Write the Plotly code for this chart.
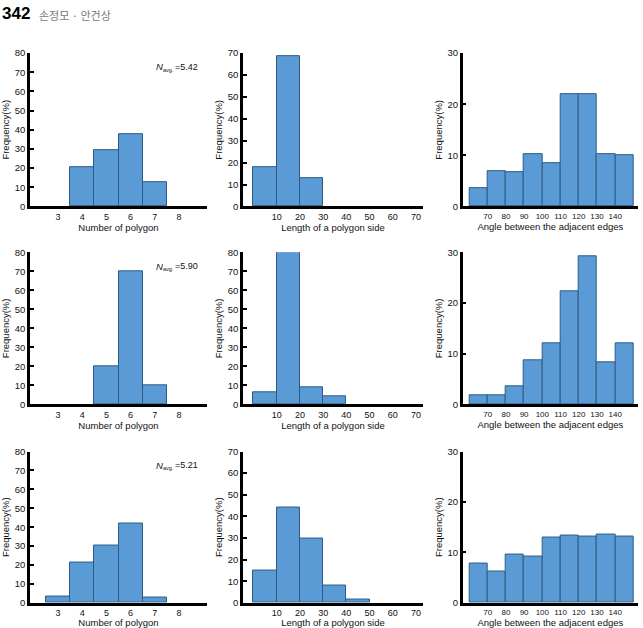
import plotly.graph_objects as go

# ---------------- data ----------------
polygon_n = [3, 4, 5, 6, 7]
freq_n_row1 = [None, 20.5, 29.5, 37.5, 12.5]
freq_n_row2 = [None, None, 20, 70, 10]
freq_n_row3 = [3.5, 21.5, 30.5, 42, 3]
navg_labels = ["5.42", "5.90", "5.21"]

side_bins = [5, 15, 25, 35, 45]
freq_side_row1 = [18, 68.5, 13, None, None]
freq_side_row2 = [6.4, 80, 8.9, 4.2, None]
freq_side_row3 = [14.9, 44.1, 29.8, 8.1, 1.4]

angle_bins = [65, 75, 85, 95, 105, 115, 125, 135, 145]
freq_ang_row1 = [3.5, 6.9, 6.7, 10.3, 8.5, 22, 22, 10.2, 10]
freq_ang_row2 = [1.7, 1.7, 3.5, 8.7, 12, 22.3, 29.2, 8.4, 12]
freq_ang_row3 = [7.8, 6.3, 9.5, 9.2, 13, 13.3, 13.2, 13.6, 13.2]

n_ticks = [3, 4, 5, 6, 7, 8]
side_ticks = [10, 20, 30, 40, 50, 60, 70]
angle_ticks = [70, 80, 90, 100, 110, 120, 130, 140]

# ---------------- layout helpers ----------------
W, H = 643, 628
FONT = "Liberation Sans, Arial, sans-serif"
BAR = "#5b9bd5"
EDGE = "#2c5a85"
TXT = "#111"

col_x = [(30, 207), (243, 423), (462.7, 638)]
row_y = [(48, 204), (250.7, 405.5), (453.5, 607.5)]

cols = [
    dict(x=polygon_n, width=1, range=[1.85, 9.15], ticks=n_ticks,
         title="Number of polygon", tfs=9,
         data=[freq_n_row1, freq_n_row2, freq_n_row3],
         yr=[80, 80, 80], ydt=[10, 10, 10]),
    dict(x=side_bins, width=10, range=[-4.5, 73], ticks=side_ticks,
         title="Length of a polygon side", tfs=9,
         data=[freq_side_row1, freq_side_row2, freq_side_row3],
         yr=[70, 80, 70], ydt=[10, 10, 10]),
    dict(x=angle_bins, width=10, range=[56.3, 152.5], ticks=angle_ticks,
         title="Angle between the adjacent edges", tfs=8,
         data=[freq_ang_row1, freq_ang_row2, freq_ang_row3],
         yr=[30, 30, 30], ydt=[10, 10, 10]),
]

fig = go.Figure()
layout = dict(width=W, height=H, margin=dict(l=0, r=0, t=0, b=0),
              paper_bgcolor="white", plot_bgcolor="white",
              showlegend=False, bargap=0, font=dict(family=FONT, color=TXT))
annotations = []

k = 0
for r in range(3):
    for c in range(3):
        k += 1
        spec = cols[c]
        xs = "" if k == 1 else str(k)
        pairs = [(xv, yv) for xv, yv in zip(spec["x"], spec["data"][r]) if yv is not None]
        fig.add_trace(go.Bar(
            x=[p[0] for p in pairs], y=[p[1] for p in pairs], width=spec["width"],
            marker=dict(color=BAR, line=dict(color=EDGE, width=1)),
            xaxis="x" + xs, yaxis="y" + xs, hoverinfo="x+y"))
        x0, x1 = col_x[c]
        yt, yb = row_y[r]
        layout["xaxis" + xs] = dict(
            domain=[x0 / W, x1 / W], anchor="y" + xs,
            range=spec["range"], tickvals=spec["ticks"],
            showgrid=False, zeroline=False, showline=True,
            linecolor="black", linewidth=2.5, ticks="",
            tickfont=dict(size=spec["tfs"], family=FONT, color=TXT),
            title=dict(text=spec["title"], standoff=2,
                       font=dict(size=9.5, family=FONT, color=TXT)),
        )
        layout["yaxis" + xs] = dict(
            domain=[1 - yb / H, 1 - yt / H], anchor="x" + xs,
            range=[0, spec["yr"][r]], dtick=spec["ydt"][r],
            showgrid=False, zeroline=False, showline=True,
            linecolor="black", linewidth=2.5, ticks="inside", ticklen=4,
            tickwidth=1.5, tickcolor="black",
            tickfont=dict(size=9.5, family=FONT, color=TXT),
            title=dict(text="Frequency(%)", standoff=4,
                       font=dict(size=9.5, family=FONT, color=TXT)),
        )

# N_avg annotations in first column (N italic, "avg." subscript, "=value")
for r in range(3):
    yt, yb = row_y[r]
    ym = 1 - (yt + 14) / H
    annotations.append(dict(
        xref="paper", yref="paper", x=155 / W, y=ym,
        xanchor="left", yanchor="middle", showarrow=False, text="N",
        borderpad=0,
        font=dict(size=9.5, family=FONT, color=TXT, style="italic")))
    annotations.append(dict(
        xref="paper", yref="paper", x=162 / W, y=ym - 3 / H,
        xanchor="left", yanchor="middle", showarrow=False, text="avg.",
        borderpad=0,
        font=dict(size=5.5, family=FONT, color=TXT)))
    annotations.append(dict(
        xref="paper", yref="paper", x=173.5 / W, y=ym,
        xanchor="left", yanchor="middle", showarrow=False,
        text="=" + navg_labels[r], borderpad=0,
        font=dict(size=9, family=FONT, color=TXT)))

# page header
annotations.append(dict(
    xref="paper", yref="paper", x=0, y=1 + 4 / H, xanchor="left", yanchor="top",
    showarrow=False, text="342",
    font=dict(size=17, family=FONT, color="black", weight="bold")))
annotations.append(dict(
    xref="paper", yref="paper", x=37 / W, y=1 + 1 / H, xanchor="left", yanchor="top",
    showarrow=False, text="손정모 · 안건상",
    font=dict(size=11, family="Noto Sans CJK KR", color="#777")))

layout["annotations"] = annotations
fig.update_layout(**layout)
fig.write_html("out.html")
